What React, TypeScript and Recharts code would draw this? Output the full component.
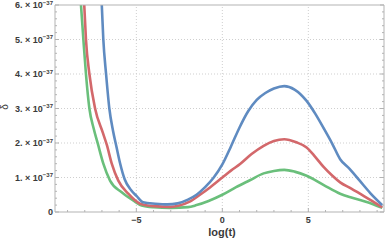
import { LineChart, Line, XAxis, YAxis, ReferenceLine } from "recharts";

// deviation δ (in units of 1e-37) against log(t)
const blueData = [
  { t: -7.2, v: 7.5 }, { t: -7.01, v: 6 }, { t: -6.92, v: 5 }, { t: -6.76, v: 4 },
  { t: -6.57, v: 3 }, { t: -6.36, v: 2.36 }, { t: -6.16, v: 1.9 }, { t: -5.95, v: 1.42 },
  { t: -5.68, v: 0.95 }, { t: -5.3, v: 0.63 }, { t: -4.98, v: 0.46 }, { t: -4.6, v: 0.28 },
  { t: -3.9, v: 0.24 }, { t: -3.2, v: 0.22 }, { t: -2.6, v: 0.25 }, { t: -2.0, v: 0.36 },
  { t: -1.5, v: 0.5 }, { t: -1.0, v: 0.72 }, { t: -0.5, v: 1.0 }, { t: 0, v: 1.38 },
  { t: 0.5, v: 1.9 }, { t: 1.0, v: 2.45 }, { t: 1.5, v: 2.92 }, { t: 2.0, v: 3.25 },
  { t: 2.5, v: 3.45 }, { t: 3.0, v: 3.58 }, { t: 3.6, v: 3.65 }, { t: 4.2, v: 3.55 },
  { t: 4.9, v: 3.22 }, { t: 5.4, v: 2.85 }, { t: 5.9, v: 2.42 }, { t: 6.4, v: 1.97 },
  { t: 6.85, v: 1.53 }, { t: 7.4, v: 1.25 }, { t: 8.0, v: 0.9 }, { t: 8.6, v: 0.55 },
  { t: 9.3, v: 0.2 },
];

const redData = [
  { t: -8.2, v: 7 }, { t: -8.03, v: 6 }, { t: -7.93, v: 5 }, { t: -7.73, v: 4 },
  { t: -7.4, v: 3 }, { t: -6.95, v: 2.3 }, { t: -6.72, v: 1.95 }, { t: -6.43, v: 1.4 },
  { t: -6.05, v: 0.91 }, { t: -5.47, v: 0.53 }, { t: -4.78, v: 0.24 }, { t: -4.0, v: 0.17 },
  { t: -3.0, v: 0.15 }, { t: -2.5, v: 0.19 }, { t: -1.9, v: 0.3 }, { t: -1.3, v: 0.5 },
  { t: -0.7, v: 0.72 }, { t: 0, v: 1.0 }, { t: 0.5, v: 1.2 }, { t: 1.05, v: 1.4 },
  { t: 1.7, v: 1.68 }, { t: 2.4, v: 1.92 }, { t: 3.0, v: 2.06 }, { t: 3.6, v: 2.11 },
  { t: 4.3, v: 2.02 }, { t: 4.9, v: 1.87 }, { t: 5.4, v: 1.6 }, { t: 5.9, v: 1.3 },
  { t: 6.4, v: 1.05 }, { t: 6.85, v: 0.86 }, { t: 7.5, v: 0.68 }, { t: 8.0, v: 0.53 },
  { t: 8.7, v: 0.32 }, { t: 9.3, v: 0.13 },
];

const greenData = [
  { t: -8.4, v: 7 }, { t: -8.22, v: 6 }, { t: -8.08, v: 5 }, { t: -7.93, v: 4 },
  { t: -7.73, v: 3 }, { t: -7.47, v: 2.4 }, { t: -7.24, v: 1.98 }, { t: -6.92, v: 1.4 },
  { t: -6.53, v: 0.91 }, { t: -5.85, v: 0.57 }, { t: -5.17, v: 0.33 }, { t: -4.69, v: 0.19 },
  { t: -4.0, v: 0.14 }, { t: -3.0, v: 0.12 }, { t: -2.0, v: 0.14 }, { t: -1.5, v: 0.2 },
  { t: -0.8, v: 0.32 }, { t: 0, v: 0.5 }, { t: 0.8, v: 0.72 }, { t: 1.6, v: 0.92 },
  { t: 2.4, v: 1.12 }, { t: 3.0, v: 1.19 }, { t: 3.6, v: 1.22 }, { t: 4.2, v: 1.17 },
  { t: 4.9, v: 1.05 }, { t: 5.9, v: 0.78 }, { t: 6.85, v: 0.53 }, { t: 7.5, v: 0.42 },
  { t: 8.2, v: 0.32 }, { t: 8.8, v: 0.22 }, { t: 9.3, v: 0.12 },
];

const xMajor = [-5, 0, 5];
const xTicks = [-9, -8, -7, -6, -5, -4, -3, -2, -1, 0, 1, 2, 3, 4, 5, 6, 7, 8, 9];
const yMajor = [0, 1, 2, 3, 4, 5, 6];
const yTicks = Array.from({ length: 31 }, (_, i) => Math.round(i * 2) / 10);
const xDomain = [-9.73, 9.4];
const yDomain = [0, 6];

const AXIS = "#b3b3b3";
const GRID = "#cfcfcf";
const TEXT = "#3a3a3a";
const FONT = "'Liberation Sans', Arial, sans-serif";

const isMajor = (list: number[], v: number) => list.some((m) => Math.abs(m - v) < 1e-6);

const BottomTick = (props: any) => {
  const { x, y, payload } = props;
  const major = isMajor(xMajor, payload.value);
  return (
    <g>
      <line x1={x} y1={y} x2={x} y2={y - (major ? 4 : 2)} stroke={AXIS} />
      {major && (
        <text x={x} y={y + 11} textAnchor="middle" fontSize={9} fontWeight="bold" fill={TEXT} fontFamily={FONT}>
          {payload.value < 0 ? `−${Math.abs(payload.value)}` : payload.value}
        </text>
      )}
    </g>
  );
};

const TopTick = (props: any) => {
  const { x, y, payload } = props;
  const major = isMajor(xMajor, payload.value);
  return <line x1={x} y1={y} x2={x} y2={y + (major ? 4 : 2)} stroke={AXIS} />;
};

const LeftTick = (props: any) => {
  const { x, y, payload } = props;
  const major = isMajor(yMajor, payload.value);
  return (
    <g>
      <line x1={x} y1={y} x2={x + (major ? 4 : 2)} y2={y} stroke={AXIS} />
      {major && (
        <text x={x - 2} y={y + 3} textAnchor="end" fontSize={9} fontWeight="bold" fill={TEXT} fontFamily={FONT}>
          {payload.value === 0 ? (
            "0"
          ) : (
            <>
              {`${payload.value}. × 10`}
              <tspan dy={-3.5} fontSize={6}>−37</tspan>
            </>
          )}
        </text>
      )}
    </g>
  );
};

const RightTick = (props: any) => {
  const { x, y, payload } = props;
  const major = isMajor(yMajor, payload.value);
  return <line x1={x} y1={y} x2={x - (major ? 4 : 2)} y2={y} stroke={AXIS} />;
};

export default function App() {
  return (
    <div style={{ position: "absolute", left: 0, top: 0 }}>
      <LineChart width={389} height={242} margin={{ top: 4, right: 4, bottom: 0, left: 0 }}>
        <XAxis
          dataKey="t"
          type="number"
          domain={xDomain}
          allowDataOverflow
          ticks={xTicks}
          interval={0}
          tickSize={0}
          tickMargin={0}
          tick={BottomTick}
          height={30}
          stroke={AXIS}
          label={{
            content: () => (
              <text x={222} y={236} textAnchor="middle" fontSize={11} fontWeight="bold" fill={TEXT} fontFamily={FONT}>
                log(t)
              </text>
            ),
          }}
        />
        <XAxis
          xAxisId="top"
          orientation="top"
          type="number"
          domain={xDomain}
          allowDataOverflow
          ticks={xTicks}
          interval={0}
          tickSize={0}
          tickMargin={0}
          tick={TopTick}
          height={1}
          stroke={AXIS}
        />
        <YAxis
          type="number"
          domain={yDomain}
          allowDataOverflow
          ticks={yTicks}
          interval={0}
          tickSize={0}
          tickMargin={0}
          tick={LeftTick}
          width={55}
          stroke={AXIS}
          label={{
            content: () => (
              <text x={8} y={107} textAnchor="middle" fontSize={10} fill={TEXT} fontFamily={FONT} transform="rotate(-90 8 107)">
                δ
              </text>
            ),
          }}
        />
        <YAxis
          yAxisId="right"
          orientation="right"
          type="number"
          domain={yDomain}
          allowDataOverflow
          ticks={yTicks}
          interval={0}
          tickSize={0}
          tickMargin={0}
          tick={RightTick}
          width={1}
          stroke={AXIS}
        />
        {xMajor.map((v) => (
          <ReferenceLine key={`gx${v}`} x={v} stroke={GRID} strokeDasharray="1 2" />
        ))}
        {yMajor.filter((v) => v > 0 && v < 6).map((v) => (
          <ReferenceLine key={`gy${v}`} y={v} stroke={GRID} strokeDasharray="1 2" />
        ))}
        <Line data={greenData} dataKey="v" type="monotone" stroke="#6abf7b" strokeWidth={2.6} dot={false} isAnimationActive={false} />
        <Line data={redData} dataKey="v" type="monotone" stroke="#d3686b" strokeWidth={2.6} dot={false} isAnimationActive={false} />
        <Line data={blueData} dataKey="v" type="monotone" stroke="#5f8bc1" strokeWidth={2.6} dot={false} isAnimationActive={false} />
      </LineChart>
    </div>
  );
}
